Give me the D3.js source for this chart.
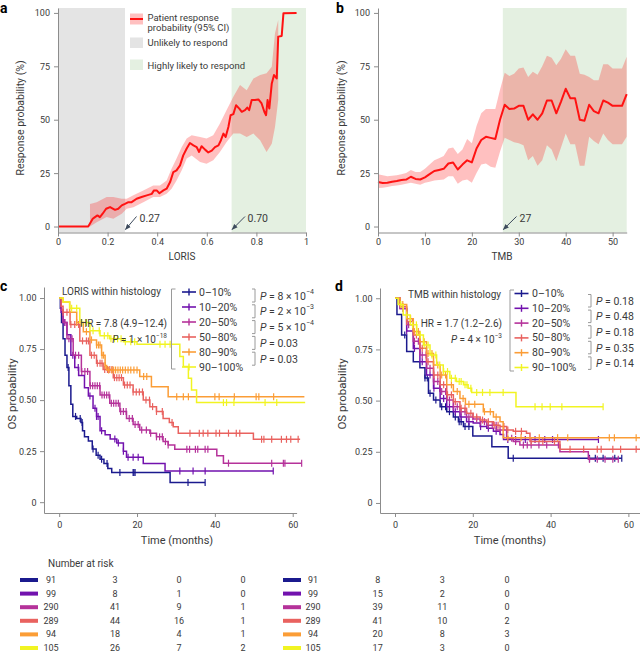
<!DOCTYPE html>
<html><head><meta charset="utf-8">
<script src="https://cdn.jsdelivr.net/npm/d3@7"></script>
<style>body{margin:0;background:#fff}svg{display:block}text{font-family:Roboto,"Liberation Sans",Arial,sans-serif}</style>
</head><body><svg id="chart" width="640" height="654"></svg>
<script>
// ---------- DATA ----------
// Panel a: LORIS vs response probability
const lorisX = [0,0.122,0.14,0.149,0.159,0.169,0.18,0.194,0.21,0.23,0.243,0.257,0.27,0.284,0.297,0.317,0.337,0.358,0.378,0.387,0.398,0.409,0.425,0.438,0.452,0.465,0.478,0.492,0.505,0.519,0.532,0.546,0.559,0.569,0.579,0.593,0.606,0.62,0.633,0.647,0.657,0.667,0.676,0.687,0.696,0.707,0.718,0.731,0.741,0.754,0.763,0.771,0.781,0.794,0.808,0.821,0.832,0.839,0.845,0.852,0.862,0.871,0.882,0.888,0.902,0.909,0.962];
const lorisY = [0,0,3.6,4.4,5.2,4.4,6,8.3,9.1,7.8,8.3,9.9,10.6,11.4,11.4,13,13.8,14.6,15.3,16.9,16.9,15.6,16.9,17.7,20.8,25.5,26.3,28.6,33.3,36.5,39.1,38,37.2,34.9,37.6,36,34.7,35.5,37.2,38,40.4,43.5,41.9,46.6,52.1,52.6,56.8,55.2,53.7,54.5,55.7,54.5,59.2,59.2,59.5,57.6,53.7,52.1,59.2,55.2,67,70.9,69.3,88.9,89.2,99.8,100];
const lorisBandX = [0.129,0.156,0.196,0.223,0.257,0.277,0.304,0.344,0.384,0.411,0.438,0.458,0.478,0.499,0.519,0.539,0.573,0.599,0.626,0.653,0.68,0.707,0.734,0.761,0.788,0.815,0.841,0.862,0.875,0.888];
const lorisBandLo = [0,2,4.4,3.6,6,8.3,9,11.4,13.8,13.8,15.3,17.7,21.6,26.3,31.8,33.3,30.2,29.4,31,34.9,39.6,43.5,43.5,41.9,43.5,40.4,34.9,38.8,46.6,59.2];
const lorisBandHi = [10.6,11.4,13.8,13.8,13,13,14.6,16.9,19.2,19.2,21.6,27,31.8,37.2,41.2,42.7,41.9,41.2,42.7,48.2,54.5,60.7,66.2,63.8,69.3,70.9,71.7,74.8,90.5,96.7];
const lorisLow = 0.27, lorisHigh = 0.70;

// Panel b: TMB vs response probability
const tmbX = d3.range(0, 54);
const tmbY = [20.8,20.4,20.5,21,21.3,21.8,22,23.3,22.3,22,23,24.5,26,26.5,27,29.5,30,26.7,29,31,30,36.5,40.5,42,41.5,41,50,57,55,55.2,56.5,56.5,50,52.5,50,53,59,59,53,58.5,64.5,60,60,50,49.5,57,54,53,59,58,56.5,56.5,56.5,62];
const tmbLo = [18,18.2,18.5,19,19.2,19.5,20,20.5,20,19.5,20.5,21,21.5,21.8,22,23.5,23.5,20,21.5,22,20.5,25,29,29.5,28,27.5,35,41.5,40.5,39.5,39,38,31,33,28.5,31,38,36,30.5,37,43.5,38.5,38.5,28.5,28.5,42,40,38.5,43.5,40.5,38.5,38.5,38.5,42];
const tmbHi = [24.5,24,23.5,23.8,24,24.5,25,26.5,25.5,25.5,27,29,31,32,33,36.5,37,34,36,41,39,47,53,55,55,55,64,72,70.5,71.5,74,74.5,70,72.5,71,75,80,79,75.5,78.5,83,80,80,71.5,71,70,68.5,68.5,76,76,74,74,74,79.5];
const tmbShadeStart = 26.6, tmbLabel = "27";

// Groups
const groups = ["0–10%","10–20%","20–50%","50–80%","80–90%","90–100%"];
const groupColors = ["#1b1a8e","#7212ae","#b5329a","#e9625f","#fb9d36","#f1f422"];

// Panel c: KM by LORIS ([time, survival] steps, end time, censor times)
const kmLorisSteps = [
 [[0,1],[0.3,0.95],[0.6,0.88],[1,0.8],[1.5,0.72],[2,0.66],[2.5,0.57],[3,0.48],[3.5,0.42],[4.5,0.41],[5.6,0.39],[6,0.35],[6.5,0.32],[7.5,0.3],[8.5,0.26],[9.5,0.23],[10.5,0.21],[11.5,0.19],[12.5,0.165],[13.5,0.145],[28.5,0.096]],
 [[0,1],[0.5,0.93],[1,0.88],[2,0.82],[3,0.72],[4,0.66],[5,0.62],[6.5,0.56],[7.5,0.52],[8.7,0.46],[9.6,0.42],[10.5,0.35],[11.8,0.33],[13.1,0.31],[14.8,0.29],[16.5,0.25],[17.3,0.22],[21.6,0.19],[27.2,0.153]],
 [[0,1],[0.5,0.94],[1,0.88],[2,0.8],[3.6,0.72],[5.7,0.64],[7.9,0.57],[10.5,0.525],[13,0.485],[15.6,0.444],[17.3,0.41],[19,0.38],[20.7,0.354],[23.3,0.338],[25,0.32],[26.7,0.297],[28,0.28],[29.7,0.259],[40.5,0.227],[42.2,0.191]],
 [[0,1],[0.5,0.96],[1,0.93],[2.8,0.87],[5.3,0.79],[7.9,0.72],[9.6,0.68],[11.3,0.65],[13.9,0.61],[16.5,0.574],[19,0.54],[21.6,0.5],[23.3,0.468],[25,0.444],[26.7,0.41],[28.3,0.39],[29.3,0.37],[30.6,0.338],[49.9,0.308]],
 [[0,1],[1,0.98],[2.7,0.93],[4.5,0.88],[6.2,0.835],[7.9,0.795],[9.6,0.77],[10.9,0.72],[11.8,0.67],[12.2,0.648],[20.7,0.615],[23.7,0.566],[28,0.517]],
 [[0,1],[1,0.98],[2.7,0.95],[5.3,0.88],[7.9,0.84],[10.5,0.815],[13,0.8],[16.5,0.786],[20,0.773],[31,0.713],[31.9,0.664],[33.2,0.607],[34,0.55],[35.3,0.488]]
];
const kmLorisEnd = [37.5, 55, 62.3, 61.9, 63, 63.2];
const kmLorisCensor = [
 [2.3,4.2,5.4,5.9,8.7,10,10.9,12.3,15.6,19,19.2,19.5,33.1,37.5],
 [1.3,3.5,4.9,7.9,9.2,9.6,10,10.9,14.3,15.2,16.5,17.7,19,20.3,31,34.4,37.5,55],
 [1.5,2.5,3.3,4.2,5,5.8,6.6,7.3,8,8.6,9.2,9.8,10.4,11,11.6,12.2,12.8,13.4,14,14.6,15.2,15.8,16.5,17.2,18,18.8,19.5,20.3,21.2,22.4,23.5,25,25.8,26.5,27.3,28,32.8,33.5,35,35.6,37.5,38.2,43.5,54.6,57.6,58,62.3],
 [1,2,3,4,5,6,7,7.5,8.3,9,9.8,10.5,11,11.7,12.4,13,13.6,14.2,14.8,15.4,16,16.8,17.5,18.2,19,19.8,20.6,21.4,22.3,23.2,24,25,26.5,29,33.6,36,37,38.2,40.3,41.2,43.5,45.5,46.4,52,52.6,54.6,57.1,58.4,59.5,61.4],
 [4.5,7,8.3,9.6,10.1,10.5,11,11.4,11.8,12.7,13.5,14,14.5,15.1,15.7,16.3,17,17.7,18.4,19.2,20,21.7,22.5,30.2,31.9,33.2,40,41.1,45,50.6,51.3,55.1],
 [3.2,4.5,5.8,7,8.7,10.3,11.6,12.5,13.3,14.2,15,15.9,17,18.4,19.4,25.9,27.2,28.5,42.2,43,44.9,52.9,55.9]
];

// Panel d: KM by TMB
const kmTmbSteps = [
 [[0,1],[0.5,0.92],[1.7,0.82],[3,0.74],[4.7,0.69],[6.4,0.66],[7.7,0.61],[8.6,0.536],[9.9,0.503],[11.6,0.47],[13.3,0.446],[15,0.42],[16.3,0.397],[17.6,0.373],[20,0.327],[24.9,0.275],[29.1,0.218]],
 [[0,1],[1.3,0.95],[3,0.84],[4.7,0.755],[6.4,0.69],[8.1,0.625],[9.9,0.56],[11.6,0.51],[13.3,0.47],[15,0.446],[16.7,0.42],[18.4,0.397],[20.1,0.39],[21.9,0.373],[23.6,0.365],[25.3,0.35],[27,0.335],[27.9,0.31]],
 [[0,1],[1.3,0.95],[3,0.87],[4.7,0.79],[6.4,0.723],[8.1,0.658],[9.9,0.593],[11.6,0.544],[13.3,0.503],[15,0.47],[16.7,0.446],[18.4,0.42],[20.1,0.41],[21.9,0.397],[23.6,0.38],[26.1,0.357],[28.7,0.316],[30.4,0.3],[32.1,0.283],[42.4,0.25],[49.7,0.213]],
 [[0,1],[1.3,0.96],[3,0.886],[4.7,0.82],[6.4,0.756],[8.1,0.69],[9.9,0.625],[11.6,0.577],[13.3,0.528],[15,0.495],[16.7,0.463],[18.4,0.438],[20.1,0.42],[21.9,0.405],[23.6,0.397],[25.3,0.38],[27,0.373],[28.7,0.357],[30.4,0.35],[33.8,0.34],[34.7,0.3],[42.4,0.262]],
 [[0,1],[1.3,0.97],[3,0.9],[4.7,0.837],[6.4,0.788],[8.1,0.73],[9.9,0.674],[11.6,0.625],[13.3,0.577],[15,0.544],[16.7,0.51],[18.1,0.482],[22.7,0.446],[25.3,0.42],[27,0.397],[27.8,0.319]],
 [[0,1],[0.8,0.97],[2.1,0.918],[3.9,0.87],[5.6,0.82],[7.3,0.772],[9,0.723],[10.7,0.674],[12.4,0.642],[14.1,0.609],[15.8,0.593],[17.6,0.577],[18.8,0.56],[19.7,0.54],[31.1,0.47]]
];
const kmTmbEnd = [58.3, 52.3, 57.4, 63.5, 63.5, 53.5];
const kmTmbCensor = [
 [2.5,7.7,8.3,9,10.5,12,13,14,15.5,16.5,17,18,19,30.4,50,51.5,53.5,56.5,58.3],
 [3,5,7,9,10,11.5,12.5,14,15.5,17,19,22,24,26,29,31,33.5,36,38.5,40.5,52.3],
 [2,3.5,5,6,7,8,9,10,11,12,13,14,15,16,17,18,19,20,21,22,23,24,25,26,27,30,31,33,34,35,37,39,42,50,52,54,56,57.4],
 [2,3,4.5,5.5,7,8.5,10,11,12.5,13.5,14.5,15.5,17,18,19.5,21,22.5,24,25.5,26.5,28,29,31,32.5,35,38,41,45,48.5,52,53,56,58,62],
 [2,4,5,6,7.5,8.5,9.5,11,12,13,14.5,16,17.5,19,20.5,23,24.5,26,29,32.4,37.1,41.8,44.4,55.1,56.4,62],
 [1.5,3,4.5,5.5,6.5,7.5,8.5,9.5,10.5,11.5,12.5,13.5,14.5,15.5,16.5,17,18,18.5,19.5,21,22.5,24.4,27.8,36,37.8,39.9,42.9,53.5]
];

const pLoris = [["8","−4"],["2","−3"],["5","−4"],["0.03",null],["0.03",null]];
const pTmb = [["0.18",null],["0.48",null],["0.18",null],["0.35",null],["0.14",null]];

const riskLoris = [[91,3,0,0],[99,8,1,0],[290,41,9,1],[289,44,16,1],[94,18,4,1],[105,26,7,2]];
const riskTmb = [[91,8,3,0],[99,15,2,0],[290,39,11,0],[289,41,10,2],[94,20,8,3],[105,17,3,0]];

// ---------- DRAW ----------
const svg = d3.select("#chart");
const AX = "#8c8c8c", TXT = "#3a3a3a";

function styleAxis(g, fs) {
  g.select(".domain").attr("stroke", AX).attr("stroke-width", 1);
  g.selectAll(".tick line").attr("stroke", AX);
  g.selectAll(".tick text").attr("fill", TXT).style("font-size", (fs||9) + "px");
}
function label(x, y, t, opts = {}) {
  const el = svg.append("text").attr("x", x).attr("y", y).attr("fill", opts.fill || TXT)
    .style("font-size", (opts.size || 10) + "px").attr("text-anchor", opts.anchor || "start")
    .attr("dominant-baseline", "central").text(t);
  if (opts.rotate) el.attr("transform", `rotate(-90,${x},${y})`);
  return el;
}
function panelLetter(x, y, t) {
  svg.append("text").attr("x", x).attr("y", y).text(t).attr("fill", "#000")
    .style("font-size", "14px").style("font-weight", "bold");
}

svg.append("defs").append("marker").attr("id", "arr").attr("viewBox", "0 0 10 10")
  .attr("refX", 9).attr("refY", 5).attr("markerWidth", 6).attr("markerHeight", 6)
  .attr("orient", "auto-start-reverse")
  .append("path").attr("d", "M0,1 L10,5 L0,9 z").attr("fill", "#3d4a5c");

function arrow(x1, y1, x2, y2) {
  svg.append("line").attr("x1", x1).attr("y1", y1).attr("x2", x2).attr("y2", y2)
    .attr("stroke", "#3d4a5c").attr("stroke-width", 1).attr("marker-end", "url(#arr)");
}

// ===== Panel a =====
const xa = d3.scaleLinear().domain([0, 1]).range([58, 306]);
const ya = d3.scaleLinear().domain([-2.8, 102.3]).range([232.5, 8]);
const topA = ya(102.3), botA = ya(-2.8);
svg.append("rect").attr("x", xa(0)).attr("y", topA).attr("width", xa(lorisLow) - xa(0)).attr("height", botA - topA).attr("fill", "#e4e4e4");
svg.append("rect").attr("x", xa(lorisHigh)).attr("y", topA).attr("width", xa(1) - xa(lorisHigh)).attr("height", botA - topA).attr("fill", "#e4f0e1");
const bandA = lorisBandX.map((x, i) => ({ x, lo: lorisBandLo[i], hi: lorisBandHi[i] }));
svg.append("path").datum(bandA).attr("fill", "rgba(255,30,30,0.28)")
  .attr("d", d3.area().x(d => xa(d.x)).y0(d => ya(d.lo)).y1(d => ya(d.hi)));
svg.append("path").datum(lorisX.map((x, i) => [x, lorisY[i]])).attr("fill", "none")
  .attr("stroke", "#ff1212").attr("stroke-width", 2).attr("stroke-linejoin", "round")
  .attr("d", d3.line().x(d => xa(d[0])).y(d => ya(d[1])));
let g = svg.append("g").attr("transform", `translate(0,${botA})`)
  .call(d3.axisBottom(xa).tickValues([0, 0.2, 0.4, 0.6, 0.8, 1]).tickFormat(d => d === 0 || d === 1 ? d : d3.format(".1f")(d)).tickSize(4).tickPadding(2).tickSizeOuter(0));
styleAxis(g);
g = svg.append("g").attr("transform", `translate(${xa(0)},0)`)
  .call(d3.axisLeft(ya).tickValues([0, 25, 50, 75, 100]).tickSize(4).tickPadding(4).tickSizeOuter(0));
styleAxis(g);
label(20, 118, "Response probability (%)", { rotate: true, anchor: "middle", size: 10.5 });
label(182, 256, "LORIS", { anchor: "middle", size: 10 });
arrow(136.5, 216.5, xa(lorisLow) + 0.5, 229.5);
label(139.5, 218, d3.format(".2f")(lorisLow), { size: 10.5 });
arrow(245, 216.5, xa(lorisHigh) + 0.5, 229.5);
label(247.5, 218, d3.format(".2f")(lorisHigh), { size: 10.5 });
// legend a
svg.append("rect").attr("x", 130).attr("y", 13.5).attr("width", 13).attr("height", 11).attr("fill", "rgba(255,30,30,0.28)");
svg.append("line").attr("x1", 130).attr("x2", 143).attr("y1", 19).attr("y2", 19).attr("stroke", "#ff1212").attr("stroke-width", 2);
label(147.5, 17.5, "Patient response", { size: 9.5 });
label(147.5, 27.5, "probability (95% CI)", { size: 9.5 });
svg.append("rect").attr("x", 130).attr("y", 37.5).attr("width", 13).attr("height", 10.5).attr("fill", "#e4e4e4");
label(147.5, 42.5, "Unlikely to respond", { size: 9.5 });
svg.append("rect").attr("x", 130).attr("y", 59.5).attr("width", 13).attr("height", 10.5).attr("fill", "#e4f0e1");
label(147.5, 65, "Highly likely to respond", { size: 9.5 });
panelLetter(0, 13, "a");

// ===== Panel b =====
const xb = d3.scaleLinear().domain([0, 53]).range([378, 626.7]);
const yb = ya.copy();
svg.append("rect").attr("x", xb(tmbShadeStart)).attr("y", topA).attr("width", xb(53) - xb(tmbShadeStart)).attr("height", botA - topA).attr("fill", "#e4f0e1");
svg.append("path").datum(tmbX.map((x, i) => ({ x, lo: tmbLo[i], hi: tmbHi[i] }))).attr("fill", "rgba(255,30,30,0.28)")
  .attr("d", d3.area().x(d => xb(d.x)).y0(d => yb(d.lo)).y1(d => yb(d.hi)));
svg.append("path").datum(tmbX.map((x, i) => [x, tmbY[i]])).attr("fill", "none")
  .attr("stroke", "#ff1212").attr("stroke-width", 2).attr("stroke-linejoin", "round")
  .attr("d", d3.line().x(d => xb(d[0])).y(d => yb(d[1])));
g = svg.append("g").attr("transform", `translate(0,${botA})`)
  .call(d3.axisBottom(xb).tickValues([0, 10, 20, 30, 40, 50]).tickSize(4).tickPadding(2).tickSizeOuter(0));
styleAxis(g);
g = svg.append("g").attr("transform", `translate(${xb(0)},0)`)
  .call(d3.axisLeft(yb).tickValues([0, 25, 50, 75, 100]).tickSize(4).tickPadding(4).tickSizeOuter(0));
styleAxis(g);
label(341.5, 118, "Response probability (%)", { rotate: true, anchor: "middle", size: 10.5 });
label(502, 256, "TMB", { anchor: "middle", size: 10 });
arrow(516.5, 216.5, xb(tmbShadeStart) + 0.5, 229.5);
label(519.5, 218, tmbLabel, { size: 10.5 });
panelLetter(336, 13, "b");

// ===== KM panels =====
function survAt(steps, t) { let s = 1; for (const [tt, ss] of steps) if (tt <= t) s = ss; return s; }

function kmPanel(cfg) {
  const { x, y, steps, ends, cens } = cfg;
  steps.forEach((st, i) => {
    const pts = st.concat([[ends[i], st[st.length - 1][1]]]);
    svg.append("path").datum(pts).attr("fill", "none").attr("stroke", groupColors[i]).attr("stroke-width", 1.5)
      .attr("d", d3.line().curve(d3.curveStepAfter).x(d => x(d[0])).y(d => y(d[1])));
    svg.append("g").selectAll("line").data(cens[i]).join("line")
      .attr("x1", t => x(t)).attr("x2", t => x(t))
      .attr("y1", t => y(survAt(st, t)) - 3.5).attr("y2", t => y(survAt(st, t)) + 3.5)
      .attr("stroke", groupColors[i]).attr("stroke-width", 1.2);
  });
  let ga = svg.append("g").attr("transform", `translate(0,${cfg.axisY})`)
    .call(d3.axisBottom(x).tickValues([0, 20, 40, 60]).tickSize(4).tickPadding(5).tickSizeOuter(0));
  styleAxis(ga);
  ga = svg.append("g").attr("transform", `translate(${cfg.axisX},0)`)
    .call(d3.axisLeft(y).tickValues([0, 0.25, 0.5, 0.75, 1]).tickFormat(d => d === 0 ? "0" : d3.format(".2f")(d)).tickSize(4).tickPadding(3.5).tickSizeOuter(0));
  styleAxis(ga);
  label(cfg.ytitleX, 394, "OS probability", { rotate: true, anchor: "middle", size: 11.5 });
  label(cfg.xtitleX, 540, "Time (months)", { anchor: "middle", size: 11 });

  // legend
  const L = cfg.legend;
  svg.append("path").attr("d", `M${L.bx + 4},${L.top} H${L.bx} V${L.bottom} H${L.bx + 4}`).attr("fill", "none").attr("stroke", "#9a9a9a");
  groups.forEach((gname, i) => {
    const yy = L.first + i * L.step;
    svg.append("line").attr("x1", L.mx).attr("x2", L.mx + 14).attr("y1", yy).attr("y2", yy).attr("stroke", groupColors[i]).attr("stroke-width", 1.6);
    svg.append("line").attr("x1", L.mx + 7).attr("x2", L.mx + 7).attr("y1", yy - 3.5).attr("y2", yy + 3.5).attr("stroke", groupColors[i]).attr("stroke-width", 1.4);
    label(L.tx, yy, gname, { size: 10.5 });
  });
  cfg.pvals.forEach((p, i) => {
    const t0 = L.pTop + i * L.pStep, t1 = t0 + L.pSpan;
    svg.append("path").attr("d", `M${L.px},${t0} H${L.px + 3} V${t1} H${L.px}`).attr("fill", "none").attr("stroke", "#9a9a9a");
    const tx = svg.append("text").attr("x", L.px + 8).attr("y", (t0 + t1) / 2).attr("dominant-baseline", "central")
      .attr("fill", TXT).style("font-size", "10.5px");
    tx.append("tspan").style("font-style", "italic").text("P");
    if (p[1]) {
      tx.append("tspan").text(" = " + p[0] + " × 10");
      tx.append("tspan").attr("dy", -4).style("font-size", "7px").text(p[1]);
    } else tx.append("tspan").text(" = " + p[0]);
  });
  // annotation
  const A = cfg.annot;
  label(A.titleX, A.titleY, A.title, { size: 10 });
  label(A.rx, 323.5, A.hr, { size: 10, anchor: "end" });
  const pt = svg.append("text").attr("x", A.rx).attr("y", 339).attr("dominant-baseline", "central")
    .attr("text-anchor", "end").attr("fill", TXT).style("font-size", "10px");
  pt.append("tspan").style("font-style", "italic").text("P");
  pt.append("tspan").text(" = " + A.p[0] + " × 10");
  pt.append("tspan").attr("dy", -3.5).style("font-size", "6.5px").text(A.p[1]);

  // risk table
  const cols = d3.scalePoint().domain([0, 1, 2, 3]).range(cfg.riskCols);
  const rows = d3.scalePoint().domain(d3.range(6)).range([580, 648]);
  cfg.risk.forEach((r, i) => {
    svg.append("rect").attr("x", cfg.swatchX).attr("y", rows(i) - 2).attr("width", 18).attr("height", 4).attr("fill", groupColors[i]);
    r.forEach((v, j) => label(cols(j), rows(i), v, { anchor: "middle", size: 9 }));
  });
}

const xc = d3.scaleLinear().domain([-3.9, 61]).range([44, 296.6]);
const yc = d3.scaleLinear().domain([-0.053, 1.054]).range([513, 287]);
kmPanel({
  x: xc, y: yc, steps: kmLorisSteps, ends: kmLorisEnd, cens: kmLorisCensor, axisY: 513, axisX: 44,
  ytitleX: 12, xtitleX: 177,
  legend: { bx: 171.5, top: 289, bottom: 369, mx: 182, tx: 199, first: 292, step: 15, px: 252, pTop: 289, pStep: 15.8, pSpan: 13 },
  pvals: pLoris,
  annot: { title: "LORIS within histology", titleX: 62, titleY: 291.5, rx: 167, hr: "HR = 7.8 (4.9–12.4)", p: ["1", "−18"] },
  risk: riskLoris, riskCols: [51, 243], swatchX: 20
});
label(48, 563, "Number at risk", { size: 10 });
panelLetter(0, 291, "c");

const xd = d3.scaleLinear().domain([-3.86, 63.5]).range([380, 642]);
const yd = d3.scaleLinear().domain([-0.049, 1.05]).range([513, 288]);
kmPanel({
  x: xd, y: yd, steps: kmTmbSteps, ends: kmTmbEnd, cens: kmTmbCensor, axisY: 513, axisX: 380,
  ytitleX: 341.5, xtitleX: 510,
  legend: { bx: 510, top: 290, bottom: 371, mx: 514.5, tx: 532, first: 293.5, step: 14.8, px: 588, pTop: 294.5, pStep: 15.6, pSpan: 12.5 },
  pvals: pTmb,
  annot: { title: "TMB within histology", titleX: 408, titleY: 294, rx: 502, hr: "HR = 1.7 (1.2–2.6)", p: ["4", "−3"] },
  risk: riskTmb, riskCols: [313, 507], swatchX: 283
});
panelLetter(335, 291, "d");
</script></body></html>
